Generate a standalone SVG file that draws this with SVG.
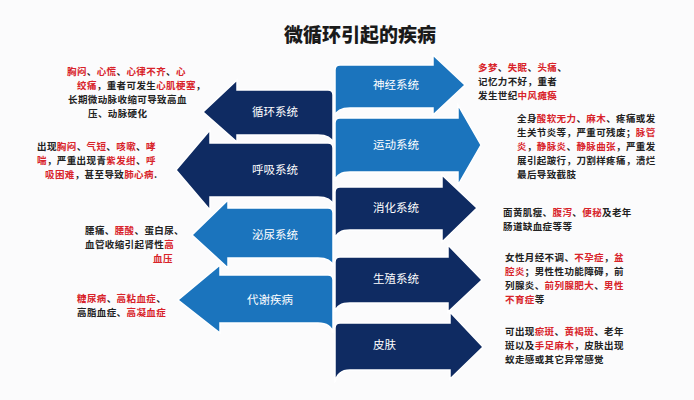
<svg xmlns="http://www.w3.org/2000/svg" width="694" height="400" viewBox="0 0 694 400">
<style>
.t{font-family:"Noto Sans CJK SC","Noto Sans",sans-serif;font-size:9.5px;letter-spacing:0.4px;font-weight:700;fill:#222}
.r{fill:#d8232a}
.lab{font-family:"Noto Sans CJK SC","Noto Sans",sans-serif;font-size:11.5px;fill:#fff}
.title{font-family:"Noto Sans CJK SC","Noto Sans",sans-serif;font-size:19px;font-weight:900;fill:#1a1a1a}
.dk{fill:#0f2b62;stroke:#fff;stroke-width:1.5}
.md{fill:#1b74bd;stroke:#fff;stroke-width:1.5}
</style>
<rect width="694" height="400" fill="#fbfbfc"/>
<text class="title" x="360" y="42" text-anchor="middle">微循环引起的疾病</text>
<g id="connectors"></g>
<g id="n-xunhuan">
<path class="dk" d="M328 90 Q333 90 333 95 L333 143 Q331 135 318 135 L237 135 L237 142 L203 112 L237 80 L237 90 Z"/>
<text class="lab" x="252" y="116">循环系统</text>
</g>
<g id="n-huxi">
<path class="dk" d="M328 143 Q333 143 333 148 L333 205 Q331 197 318 197 L210 197 L210 210 L176 170 L210 130 L210 143 Z"/>
<text class="lab" x="252" y="174">呼吸系统</text>
</g>
<g id="n-miniao">
<path class="md" d="M328 208 Q333 208 333 213 L333 266 Q331 258 318 258 L228 258 L228 268 L192 235 L228 200 L228 208 Z"/>
<text class="lab" x="252" y="239">泌尿系统</text>
</g>
<g id="n-daixie">
<path class="md" d="M328 275 Q333 275 333 280 L333 333 Q331 323 318 323 L220 323 L220 333 L178 300 L220 265 L220 275 Z"/>
<text class="lab" x="247" y="304">代谢疾病</text>
</g>
<g id="n-shenjing">
<path class="md" d="M340 65 Q335 65 335 70 L335 116 Q337 108 350 108 L433 108 L433 115 L465 85 L433 55 L433 65 Z"/>
<text class="lab" x="373" y="89">神经系统</text>
</g>
<g id="n-yundong">
<path class="md" d="M340 118 Q335 118 335 123 L335 181 Q337 172 350 172 L458 172 L458 185 L481 145 L458 105 L458 118 Z"/>
<text class="lab" x="373" y="149">运动系统</text>
</g>
<g id="n-xiaohua">
<path class="dk" d="M340 187 Q335 187 335 192 L335 239 Q337 230 350 230 L442 230 L442 242 L477 208 L442 175 L442 187 Z"/>
<text class="lab" x="373" y="212">消化系统</text>
</g>
<g id="n-shengzhi">
<path class="dk" d="M340 257 Q335 257 335 262 L335 312 Q337 303 350 303 L448 303 L448 312 L482 280 L448 245 L448 257 Z"/>
<text class="lab" x="373" y="283">生殖系统</text>
</g>
<g id="n-pifu">
<path class="dk" d="M340 323 Q335 323 335 328 L335 383 Q337 370 350 370 L450 370 L450 379 L483 347 L450 312 L450 323 Z"/>
<text class="lab" x="373" y="349">皮肤</text>
</g>
<g id="desc-left">
<text class="t" x="67" y="75"><tspan class="r">胸闷</tspan>、<tspan class="r">心慌</tspan>、<tspan class="r">心律不齐</tspan>、<tspan class="r">心</tspan></text>
<text class="t" x="77" y="89"><tspan class="r">绞痛</tspan>，重者可发生<tspan class="r">心肌梗塞</tspan>，</text>
<text class="t" x="68" y="103">长期微动脉收缩可导致高血</text>
<text class="t" x="88" y="117">压、动脉硬化</text>
<text class="t" x="37" y="150">出现<tspan class="r">胸闷</tspan>、<tspan class="r">气短</tspan>、<tspan class="r">咳嗽</tspan>、<tspan class="r">哮</tspan></text>
<text class="t" x="37" y="164"><tspan class="r">喘</tspan>，严重出现青<tspan class="r">紫发绀</tspan>、<tspan class="r">呼</tspan></text>
<text class="t" x="45" y="178"><tspan class="r">吸困难</tspan>，甚至导致<tspan class="r">肺心病</tspan>.</text>
<text class="t" x="85" y="234">腰痛、<tspan class="r">腰酸</tspan>、蛋白尿、</text>
<text class="t" x="85" y="248">血管收缩引起肾性<tspan class="r">高</tspan></text>
<text class="t" x="153" y="262"><tspan class="r">血压</tspan></text>
<text class="t" x="77" y="302"><tspan class="r">糖尿病</tspan>、<tspan class="r">高粘血症</tspan>、</text>
<text class="t" x="77" y="316">高脂血症、<tspan class="r">高凝血症</tspan></text>
</g>
<g id="desc-right">
<text class="t" x="478" y="71"><tspan class="r">多梦</tspan>、<tspan class="r">失眠</tspan>、<tspan class="r">头痛</tspan>、</text>
<text class="t" x="478" y="85">记忆力不好，重者</text>
<text class="t" x="478" y="99">发生世纪<tspan class="r">中风瘫痪</tspan></text>
<text class="t" x="517" y="122">全身<tspan class="r">酸软无力</tspan>、<tspan class="r">麻木</tspan>、疼痛或发</text>
<text class="t" x="517" y="136">生关节炎等，严重可残废；<tspan class="r">脉管</tspan></text>
<text class="t" x="517" y="150"><tspan class="r">炎</tspan>，<tspan class="r">静脉炎</tspan>、<tspan class="r">静脉曲张</tspan>，严重发</text>
<text class="t" x="517" y="164">展引起跛行，刀割样疼痛，溃烂</text>
<text class="t" x="517" y="178">最后导致截肢</text>
<text class="t" x="503" y="216">面黄肌瘦、<tspan class="r">腹泻</tspan>、<tspan class="r">便秘</tspan>及老年</text>
<text class="t" x="503" y="230">肠道缺血症等等</text>
<text class="t" x="505" y="261">女性月经不调、<tspan class="r">不孕症</tspan>，<tspan class="r">盆</tspan></text>
<text class="t" x="505" y="275"><tspan class="r">腔炎</tspan>；男性性功能障碍，前</text>
<text class="t" x="505" y="289">列腺炎、<tspan class="r">前列腺肥大</tspan>、<tspan class="r">男性</tspan></text>
<text class="t" x="505" y="303"><tspan class="r">不育症</tspan>等</text>
<text class="t" x="505" y="335">可出现<tspan class="r">瘀斑</tspan>、<tspan class="r">黄褐斑</tspan>、老年</text>
<text class="t" x="505" y="349">斑以及<tspan class="r">手足麻木</tspan>，皮肤出现</text>
<text class="t" x="505" y="363">蚁走感或其它异常感觉</text>
</g>
</svg>
